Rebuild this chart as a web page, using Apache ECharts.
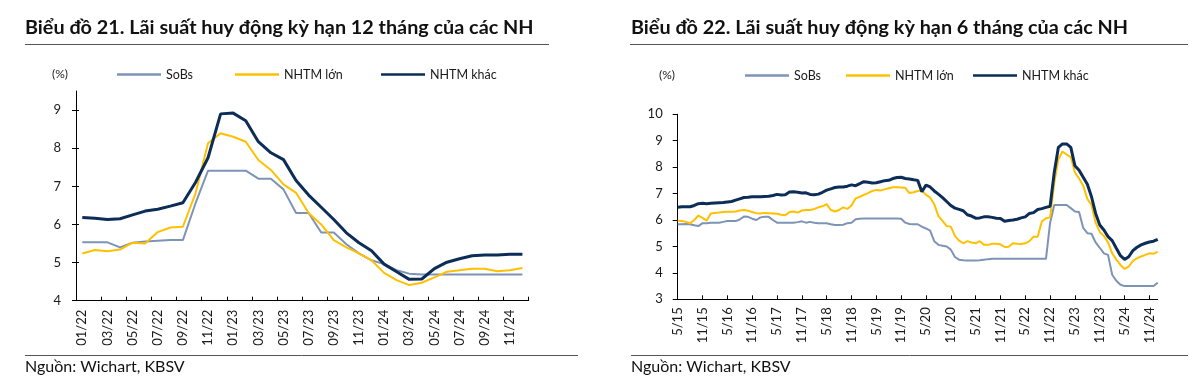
<!DOCTYPE html>
<html>
<head>
<meta charset="utf-8">
<script src="https://cdn.jsdelivr.net/npm/echarts@6/dist/echarts.min.js"></script>
<style>
html,body{margin:0;padding:0;background:#fff;}
#c{width:1200px;height:382px;}
</style>
</head>
<body>
<div id="c"></div>
<script>
// ---------- Chart 21: 12-month deposit rates (monthly, 01/22 - 12/24) ----------
const months12 = ['01/22','02/22','03/22','04/22','05/22','06/22','07/22','08/22','09/22','10/22','11/22','12/22',
  '01/23','02/23','03/23','04/23','05/23','06/23','07/23','08/23','09/23','10/23','11/23','12/23',
  '01/24','02/24','03/24','04/24','05/24','06/24','07/24','08/24','09/24','10/24','11/24','12/24'];
const sobs12 = [5.53,5.53,5.53,5.40,5.52,5.55,5.57,5.59,5.59,6.55,7.41,7.41,
  7.41,7.41,7.20,7.20,6.92,6.30,6.30,5.79,5.79,5.48,5.24,5.06,
  4.96,4.80,4.71,4.69,4.69,4.69,4.69,4.69,4.69,4.69,4.69,4.69];
const lon12 = [5.24,5.33,5.30,5.34,5.52,5.50,5.80,5.92,5.94,6.81,8.13,8.39,
  8.30,8.17,7.69,7.43,7.05,6.83,6.30,6.00,5.59,5.40,5.24,5.06,
  4.73,4.54,4.41,4.47,4.61,4.76,4.80,4.84,4.84,4.77,4.80,4.86];
const khac12 = [6.18,6.16,6.13,6.15,6.25,6.35,6.40,6.48,6.57,7.10,7.75,8.90,
  8.92,8.72,8.17,7.88,7.70,7.15,6.77,6.45,6.13,5.78,5.52,5.31,
  4.96,4.76,4.56,4.57,4.84,5.01,5.10,5.18,5.20,5.20,5.22,5.22];
const yTicks12 = [4,5,6,7,8,9];

// ---------- Chart 22: 6-month deposit rates (monthly, 5/15 - 1/25) ----------
const months6 = [];
(function(){ let m = 5, y = 15; for (let i = 0; i < 117; i++) { months6.push(m + '/' + y); m++; if (m > 12) { m = 1; y++; } } })();
const sobs6 = [5.84,5.84,5.85,5.84,5.80,5.77,5.88,5.88,5.90,5.90,5.90,5.93,
  5.96,5.96,5.96,6.02,6.13,6.12,6.05,6.00,6.10,6.12,6.12,6.00,
  5.90,5.90,5.90,5.90,5.90,5.92,5.95,5.90,5.93,5.90,5.88,5.88,
  5.88,5.84,5.81,5.81,5.82,5.88,5.90,6.03,6.05,6.06,6.06,6.06,
  6.06,6.06,6.06,6.06,6.06,6.06,6.05,5.90,5.85,5.84,5.84,
  5.75,5.68,5.60,5.20,5.06,5.03,5.00,4.88,4.60,4.50,4.48,4.47,
  4.47,4.47,4.48,4.50,4.52,4.53,4.53,4.53,4.53,4.53,4.53,4.53,
  4.53,4.53,4.53,4.53,4.53,4.53,4.53,5.90,6.57,6.57,6.57,6.57,
  6.45,6.32,6.30,5.70,5.50,5.48,5.15,4.95,4.74,4.68,3.93,3.70,
  3.55,3.50,3.50,3.50,3.50,3.50,3.50,3.50,3.50,3.63];
const lon6 = [5.97,5.96,5.93,5.88,6.00,6.17,6.08,5.98,6.25,6.27,6.28,6.30,
  6.31,6.31,6.32,6.36,6.38,6.35,6.30,6.26,6.25,6.27,6.26,6.25,
  6.24,6.20,6.18,6.30,6.32,6.28,6.36,6.38,6.38,6.42,6.48,6.52,
  6.60,6.38,6.32,6.38,6.48,6.42,6.55,6.82,6.88,6.95,7.02,7.10,
  7.14,7.12,7.16,7.20,7.24,7.24,7.23,7.22,7.02,7.05,7.10,
  7.12,6.95,6.85,6.60,6.15,5.97,5.77,5.75,5.40,5.22,5.12,5.20,
  5.15,5.12,5.20,5.06,5.06,5.10,5.10,5.08,4.98,4.99,5.12,5.10,
  5.09,5.12,5.20,5.37,5.37,5.94,6.07,6.10,7.40,8.30,8.59,8.48,
  8.38,7.80,7.57,7.30,6.80,6.57,5.90,5.55,5.40,5.15,4.74,4.50,
  4.30,4.15,4.24,4.45,4.56,4.62,4.68,4.74,4.72,4.80];
const khac6 = [6.48,6.50,6.50,6.50,6.55,6.62,6.63,6.62,6.63,6.64,6.65,6.66,
  6.68,6.70,6.75,6.80,6.85,6.86,6.88,6.88,6.88,6.89,6.90,6.93,
  6.97,6.95,6.96,7.06,7.07,7.05,7.02,7.03,6.97,6.96,6.98,7.05,
  7.13,7.18,7.23,7.25,7.25,7.28,7.33,7.30,7.38,7.45,7.43,7.40,
  7.41,7.45,7.49,7.50,7.57,7.61,7.62,7.57,7.55,7.52,7.50,7.07,
  7.32,7.25,7.10,6.98,6.85,6.70,6.55,6.45,6.40,6.35,6.20,6.15,
  6.07,6.08,6.12,6.12,6.10,6.07,6.06,5.95,5.98,6.00,6.03,6.08,
  6.12,6.25,6.28,6.40,6.43,6.48,6.52,7.80,8.75,8.88,8.88,8.75,
  8.05,7.88,7.62,7.35,6.88,6.25,5.81,5.62,5.37,5.22,4.93,4.65,
  4.51,4.61,4.84,4.97,5.06,5.12,5.17,5.20,5.27];

const NAMES = ['SoBs','NHTM lớn','NHTM khác'];
const COLORS = ['#7d94b6','#ffc000','#0c2d57'];
const WIDTHS = [2,2,3];
const FONT = 'Lato';
const TXT = '#1a1a1a';

const chart = echarts.init(document.getElementById('c'), null, {renderer:'canvas'});

function legendItem(i, left, top){
  return {
    left: left, top: top, padding: 0, itemGap: 0,
    itemWidth: 44, itemHeight: 2.5, icon: 'rect',
    data: [{name: NAMES[i], itemStyle:{color: COLORS[i]}}],
    textStyle: {fontFamily: FONT, fontSize: 12.5, color: TXT},
    selectedMode: false
  };
}
function lineSeries(i, data, xi, yi){
  return {
    type: 'line', name: NAMES[i], data: data,
    xAxisIndex: xi, yAxisIndex: yi,
    symbol: 'none', smooth: false,
    lineStyle: {color: COLORS[i], width: WIDTHS[i]},
    itemStyle: {color: COLORS[i]},
    z: 2 + i, animation: false
  };
}

const option = {
  backgroundColor: '#fff',
  animation: false,
  title: [
    {text: 'Biểu đồ 21. Lãi suất huy động kỳ hạn 12 tháng của các NH', left: 25, top: 18, padding: 0,
      textStyle: {fontFamily: FONT, fontSize: 19.8, fontWeight: 'bold', color: '#111'}},
    {text: 'Biểu đồ 22. Lãi suất huy động kỳ hạn 6 tháng của các NH', left: 631, top: 18, padding: 0,
      textStyle: {fontFamily: FONT, fontSize: 19.8, fontWeight: 'bold', color: '#111'}},
    {text: '(%)', left: 52, top: 68, padding: 0, textStyle: {fontFamily: FONT, fontSize: 12, fontWeight: 'normal', color: TXT}},
    {text: '(%)', left: 659, top: 69, padding: 0, textStyle: {fontFamily: FONT, fontSize: 12, fontWeight: 'normal', color: TXT}},
    {text: 'Nguồn: Wichart, KBSV', left: 25, top: 359, padding: 0, textStyle: {fontFamily: FONT, fontSize: 16, fontWeight: 'normal', color: '#111'}},
    {text: 'Nguồn: Wichart, KBSV', left: 631, top: 359, padding: 0, textStyle: {fontFamily: FONT, fontSize: 16, fontWeight: 'normal', color: '#111'}}
  ],
  legend: [
    legendItem(0, 117, 68), legendItem(1, 235, 68), legendItem(2, 381, 68),
    legendItem(0, 745, 69), legendItem(1, 846, 69), legendItem(2, 973, 69)
  ],
  graphic: [
    {type:'line', shape:{x1:25, y1:44.5, x2:549, y2:44.5}, style:{stroke:'#555', lineWidth:1}, silent:true},
    {type:'line', shape:{x1:630, y1:44.5, x2:1188, y2:44.5}, style:{stroke:'#555', lineWidth:1}, silent:true},
    {type:'line', shape:{x1:25, y1:355.5, x2:578, y2:355.5}, style:{stroke:'#555', lineWidth:1}, silent:true},
    {type:'line', shape:{x1:631, y1:355.5, x2:1188, y2:355.5}, style:{stroke:'#555', lineWidth:1}, silent:true}
  ],
  grid: [
    {left: 76, top: 91, width: 452.7, height: 209.7},
    {left: 677.7, top: 114.3, width: 480, height: 185}
  ],
  xAxis: [
    {type: 'category', gridIndex: 0, data: months12, boundaryGap: true,
      axisLine: {lineStyle: {color: '#000', width: 1}},
      axisTick: {show: true, inside: true, length: 4, interval: 1, lineStyle: {color: '#000'}},
      axisLabel: {interval: 1, rotate: 90, margin: 9, fontFamily: FONT, fontSize: 13, color: TXT},
      splitLine: {show: false}},
    {type: 'category', gridIndex: 1, data: months6, boundaryGap: false,
      axisLine: {lineStyle: {color: '#000', width: 1}},
      axisTick: {show: true, inside: true, length: 4, interval: 5, lineStyle: {color: '#000'}},
      axisLabel: {interval: 5, rotate: 90, margin: 8, fontFamily: FONT, fontSize: 13, color: TXT},
      splitLine: {show: false}}
  ],
  yAxis: [
    {type: 'value', gridIndex: 0, position: 'left', min: 4, max: 9.5,
      axisLine: {show: true, lineStyle: {color: '#000', width: 1}},
      axisTick: {show: true, length: 4, customValues: yTicks12, lineStyle: {color: '#000'}},
      axisLabel: {customValues: yTicks12, margin: 15, fontFamily: FONT, fontSize: 13, color: TXT},
      splitLine: {show: false}},
    {type: 'value', gridIndex: 0, position: 'left', offset: 0, min: 4, max: 9.5,
      axisLine: {show: false},
      axisTick: {show: true, inside: true, length: 3, customValues: yTicks12, lineStyle: {color: '#000'}},
      axisLabel: {show: false},
      splitLine: {show: false}},
    {type: 'value', gridIndex: 1, position: 'left', min: 3, max: 10, interval: 1,
      axisLine: {show: true, lineStyle: {color: '#000', width: 1}},
      axisTick: {show: true, length: 5, lineStyle: {color: '#000'}},
      axisLabel: {margin: 15, fontFamily: FONT, fontSize: 13, color: TXT},
      splitLine: {show: false}}
  ],
  series: [
    lineSeries(0, sobs12, 0, 0), lineSeries(1, lon12, 0, 0), lineSeries(2, khac12, 0, 0),
    lineSeries(0, sobs6, 1, 2), lineSeries(1, lon6, 1, 2), lineSeries(2, khac6, 1, 2)
  ]
};
chart.setOption(option);
</script>
</body>
</html>
